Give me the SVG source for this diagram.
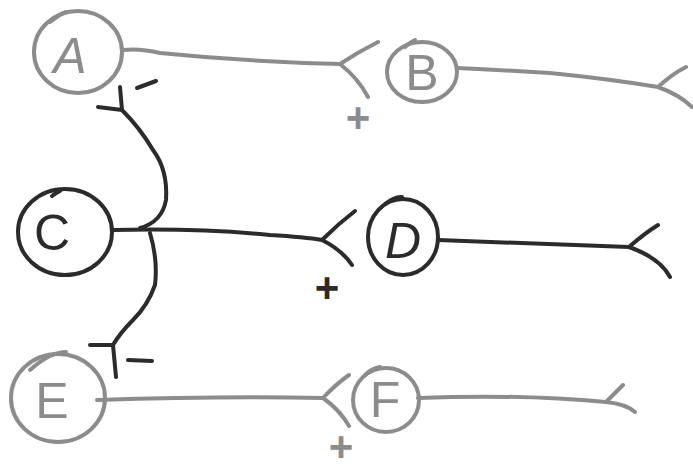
<svg xmlns="http://www.w3.org/2000/svg" width="693" height="470" viewBox="0 0 693 470">
<style>
.g{stroke:#8c8c8c}
.k{stroke:#2b2b2b}
path,ellipse{fill:none;stroke-width:4;stroke-linecap:round;stroke-linejoin:round}
.t{font-family:"Liberation Sans",sans-serif;font-size:50px;text-anchor:middle}
.tg{fill:#8c8c8c}
.tk{fill:#2b2b2b}
.s{font-family:"Liberation Sans",sans-serif;font-size:42px;font-weight:bold;text-anchor:middle}
</style>
<rect width="693" height="470" fill="#ffffff"/>
<g id="A"><ellipse class="g" cx="78" cy="52" rx="44" ry="41"/><path class="g" d="M50 22 Q60 14 66 12"/><text class="t tg" x="70" y="73" font-style="italic">A</text></g>
<g id="B"><ellipse class="g" cx="422" cy="72" rx="35" ry="30"/><path class="g" d="M405 47 Q410 42 415 40"/><text class="t tg" x="422" y="90">B</text></g>
<g id="C"><ellipse class="k" cx="65" cy="232" rx="47" ry="43"/><path class="k" d="M52 196 Q56 193 60 191"/><text class="t tk" x="52" y="250">C</text></g>
<g id="D"><ellipse class="k" cx="403" cy="237" rx="35" ry="38"/><path class="k" d="M385 204 Q395 196 402 197"/><text class="t tk" x="403" y="258" font-style="italic">D</text></g>
<g id="E"><ellipse class="g" cx="58" cy="398" rx="47" ry="44"/><path class="g" d="M30 370 Q50 352 66 352"/><text class="t tg" x="52" y="418">E</text></g>
<g id="F"><ellipse class="g" cx="386" cy="400" rx="33" ry="32"/><path class="g" d="M365 375 Q372 368 380 367"/><text class="t tg" x="385" y="417">F</text></g>
<g id="connectors">
<path class="g" d="M123 50 Q140 48 160 53 Q250 62 340 64 M340 64 Q358 52 378 42 M340 64 Q358 78 368 97"/>
<path class="g" d="M457 68 Q500 70 550 73 Q610 79 658 87 M658 87 Q672 74 686 67 M658 87 Q680 95 692 107"/>
<path class="k" d="M112 230 Q200 228 270 235 Q305 237 322 240 M322 240 Q338 224 355 211 M322 240 Q342 250 352 265"/>
<path class="k" d="M438 240 Q540 244 629 247 M629 247 Q645 233 658 225 M629 247 Q660 258 670 277"/>
<path class="g" d="M97 400 Q220 396 323 398 M323 398 Q336 384 349 375 M323 398 Q340 410 349 426"/>
<path class="g" d="M418 398 Q520 394 606 402 M606 402 Q616 392 623 385 M606 402 Q626 404 635 412"/>
<path class="k" d="M140 228 Q162 222 166 200 Q168 170 153 150 Q140 128 122 110 M120 87 L122 110 M98 107 L122 110"/>
<path class="k" d="M150 233 Q158 260 155 285 Q148 305 133 320 Q120 333 113 345 M90 345 L113 345 L116 377"/>
<path class="k" d="M137 88 L156 81"/>
<path class="k" d="M128 360 L152 361"/>
</g>
<text class="s" x="358" y="132" fill="#8c8c8c">+</text>
<text class="s" x="327" y="302" fill="#2b2b2b">+</text>
<text class="s" x="341" y="461" fill="#8c8c8c">+</text>
</svg>
